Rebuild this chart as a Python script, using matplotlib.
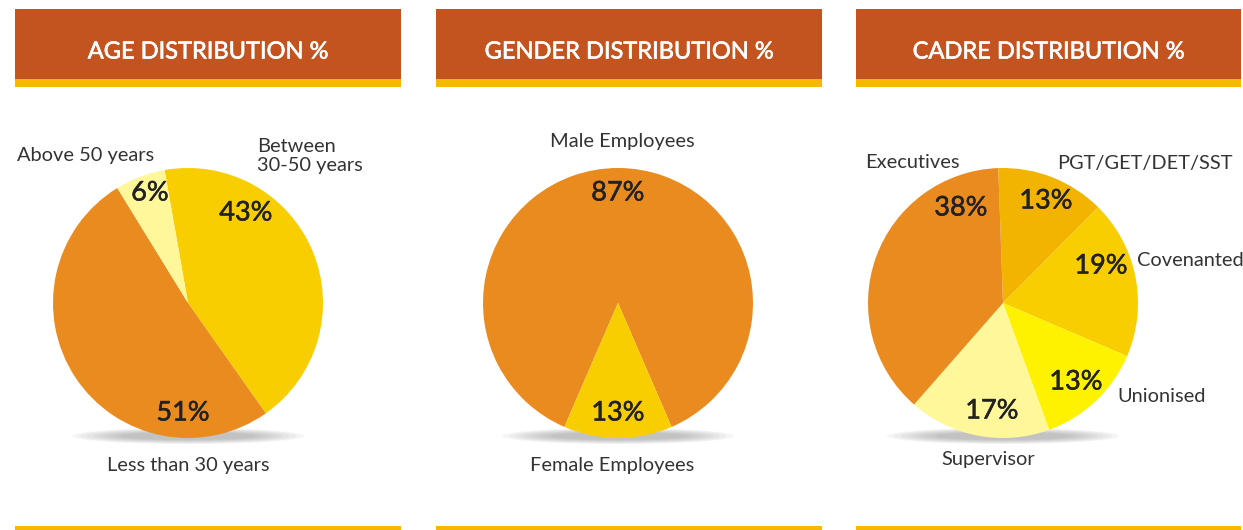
import matplotlib.pyplot as plt
import matplotlib.patheffects as pe
from matplotlib.patches import Rectangle, Ellipse

# Chart data
age_labels = ["Between\n30-50 years", "Less than 30 years", "Above 50 years"]
age_values = [43, 51, 6]

gender_labels = ["Male Employees", "Female Employees"]
gender_values = [87, 13]

cadre_labels = ["PGT/GET/DET/SST", "Covenanted", "Unionised", "Supervisor", "Executives"]
cadre_values = [13, 19, 13, 17, 38]

titles = ["AGE DISTRIBUTION %", "GENDER DISTRIBUTION %", "CADRE DISTRIBUTION %"]

# colours
HEAD = "#C4541F"
STRIP = "#F6B800"
ORANGE = "#E98B1F"
YELLOW = "#F8CE00"
PALE = "#FFF79A"
AMBER = "#F2B400"
LEMON = "#FFF200"
TXT = "#333333"
PCT = "#222222"

age_colors = [YELLOW, ORANGE, PALE]
gender_colors = [ORANGE, YELLOW]
cadre_colors = [AMBER, YELLOW, LEMON, PALE, ORANGE]

W, H = 1243, 530
plt.rcParams['font.family'] = ['Lato', 'DejaVu Sans']

fig = plt.figure(figsize=(W / 100, H / 100), dpi=100)
ax = fig.add_axes([0, 0, 1, 1])


def Y(p):
    # pixel row (from top) -> data y
    return H - p


panels_x = [(15, 401), (436, 822), (856, 1241)]
pie_cx = [188, 618, 1003]
pie_cy = 303
R = 135

# headers + bottom lines
for (x0, x1), title in zip(panels_x, titles):
    ax.add_patch(Rectangle((x0, Y(79)), x1 - x0, 70, facecolor=HEAD, edgecolor="none"))
    ax.add_patch(Rectangle((x0, Y(87)), x1 - x0, 8, facecolor=STRIP, edgecolor="none"))
    ax.add_patch(Rectangle((x0, Y(530)), x1 - x0, 4, facecolor=STRIP, edgecolor="none"))
    ax.text((x0 + x1) / 2, Y(52), title, color="white", fontsize=17,
            ha="center", va="center",
            path_effects=[pe.withStroke(linewidth=0.45, foreground="white")])

# soft shadows under the pies
for cx in pie_cx:
    for k in range(8):
        ax.add_patch(Ellipse((cx, Y(436)), 232 - k * 14, 16 - k * 1.2,
                             facecolor="#888888", alpha=0.08, edgecolor="none", zorder=1))

pie_kw = dict(radius=R, wedgeprops=dict(linewidth=0, zorder=2), frame=True)
ax.pie(age_values, colors=age_colors, startangle=100, counterclock=False,
       center=(pie_cx[0], Y(pie_cy)), **pie_kw)
ax.pie(gender_values, colors=gender_colors, startangle=-66.6,
       center=(pie_cx[1], Y(pie_cy)), **pie_kw)
ax.pie(cadre_values, colors=cadre_colors, startangle=92, counterclock=False,
       center=(pie_cx[2], Y(pie_cy)), **pie_kw)

lab = dict(color=TXT, fontsize=14.4, va="center")
pct = dict(color=PCT, fontsize=19.5, ha="center", va="center",
           path_effects=[pe.withStroke(linewidth=0.4, foreground=PCT)])

# age labels
ax.text(257, Y(156), age_labels[0], ha="left", linespacing=1.15, **lab)
ax.text(188, Y(466), age_labels[1], ha="center", **lab)
ax.text(17, Y(155), age_labels[2], ha="left", **lab)
for (x, y), v in zip([(246, 213), (183, 413), (150, 193)], age_values):
    ax.text(x, Y(y), f"{v}%", **pct)

# gender labels
ax.text(622, Y(141), gender_labels[0], ha="center", **lab)
ax.text(612, Y(466), gender_labels[1], ha="center", **lab)
for (x, y), v in zip([(618, 193), (618, 413)], gender_values):
    ax.text(x, Y(y), f"{v}%", **pct)

# cadre labels
cadre_pos = [(1057, 164, "left"), (1137, 260, "left"), (1117, 397, "left"),
             (988, 460, "center"), (865, 163, "left")]
for (x, y, ha), t in zip(cadre_pos, cadre_labels):
    ax.text(x, Y(y), t, ha=ha, **lab)
for (x, y), v in zip([(1046, 201), (1101, 266), (1076, 382), (992, 411), (961, 208)],
                     cadre_values):
    ax.text(x, Y(y), f"{v}%", **pct)

ax.set_xlim(0, W)
ax.set_ylim(0, H)
ax.set_aspect("auto")
ax.axis("off")

fig.savefig("out.png", dpi=100, facecolor="white")
